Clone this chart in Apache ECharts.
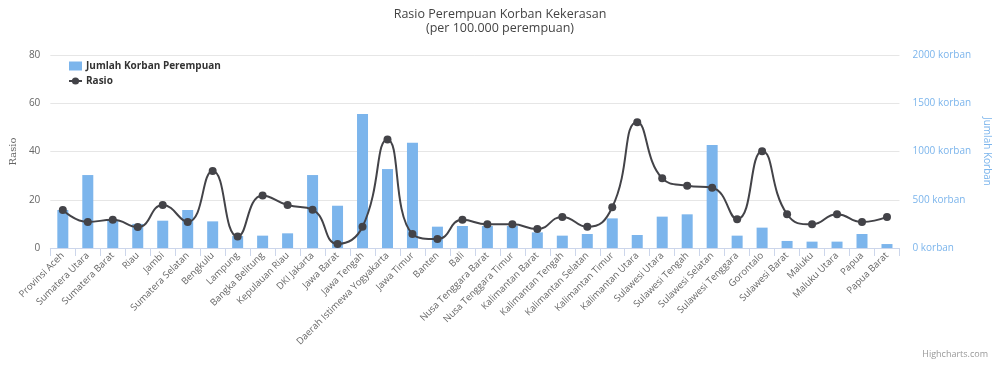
<!DOCTYPE html>
<html>
<head>
<meta charset="utf-8">
<script src="https://cdn.jsdelivr.net/npm/echarts@6/dist/echarts.min.js"></script>
<style>html,body{margin:0;padding:0;background:#fff;}#c{width:1000px;height:369px;}</style>
</head>
<body>
<div id="c"></div>
<script>
const categories = ["Provinsi Aceh","Sumatera Utara","Sumatera Barat","Riau","Jambi","Sumatera Selatan","Bengkulu","Lampung","Bangka Belitung","Kepulauan Riau","DKI Jakarta","Jawa Barat","Jawa Tengah","Daerah Istimewa Yogyakarta","Jawa Timur","Banten","Bali","Nusa Tenggara Barat","Nusa Tenggara Timur","Kalimantan Barat","Kalimantan Tengah","Kalimantan Selatan","Kalimantan Timur","Kalimantan Utara","Sulawesi Utara","Sulawesi Tengah","Sulawesi Selatan","Sulawesi Tenggara","Gorontalo","Sulawesi Barat","Maluku","Maluku Utara","Papua","Papua Barat"];
const jumlahKorban = [394,756,290,250,283,394,276,125,128,152,756,438,1388,818,1091,221,228,228,228,162,128,145,307,135,325,349,1067,128,211,73,66,66,145,41];
const rasio = [15.8,10.8,11.7,8.7,17.8,10.8,31.9,4.8,21.8,17.8,15.9,1.7,8.8,45.0,5.8,3.7,11.7,9.8,9.8,7.9,12.9,8.8,16.9,52.1,28.9,25.8,25.0,11.9,40.1,14.0,9.8,14.0,10.8,12.9];
const rasioTicks = {min:0, max:80, interval:20};
const korbanTicks = {min:0, max:2000, interval:500};

const FONT = "'Open Sans', sans-serif";
const chart = echarts.init(document.getElementById('c'), null, {renderer:'canvas'});
chart.setOption({
  animation:false,
  backgroundColor:'#ffffff',
  title:{
    text:'Rasio Perempuan Korban Kekerasan',
    subtext:'(per 100.000 perempuan)',
    left:'center', top:3, itemGap:1,
    textStyle:{fontFamily:FONT, fontSize:12.5, fontWeight:'normal', color:'#444444'},
    subtextStyle:{fontFamily:FONT, fontSize:12.5, color:'#444444'}
  },
  legend:{
    orient:'vertical', left:68, top:61, padding:0, itemGap:5, itemWidth:13, itemHeight:9,
    textStyle:{fontFamily:FONT, fontSize:10, fontWeight:'bold', color:'#333333', padding:[0,0,0,-1]},
    data:[{name:'Jumlah Korban Perempuan', icon:'rect'},{name:'Rasio'}]
  },
  grid:{left:43, right:100, top:55, bottom:121, containLabel:false},
  xAxis:{
    type:'category', data:categories,
    axisLine:{lineStyle:{color:'#ccd6eb'}},
    axisTick:{show:true, length:8, lineStyle:{color:'#ccd6eb'}},
    axisLabel:{rotate:45, interval:0, fontFamily:FONT, fontSize:9.5, color:'#666666', margin:6}
  },
  yAxis:[
    {type:'value', min:rasioTicks.min, max:rasioTicks.max, interval:rasioTicks.interval,
     name:'Rasio', nameLocation:'middle', nameGap:32, nameRotate:90,
     nameTextStyle:{fontFamily:'DejaVu Serif, serif', fontSize:10, color:'#666666'},
     axisLabel:{fontFamily:FONT, fontSize:10, color:'#666666', margin:10},
     axisLine:{show:false}, axisTick:{show:false},
     splitLine:{lineStyle:{color:'#e6e6e6'}}},
    {type:'value', min:korbanTicks.min, max:korbanTicks.max, interval:korbanTicks.interval,
     name:'Jumlah Korban', nameLocation:'middle', nameGap:80, nameRotate:-90,
     nameTextStyle:{fontFamily:FONT, fontSize:10, color:'#7cb5ec'},
     axisLabel:{fontFamily:FONT, fontSize:10, color:'#7cb5ec', margin:13, formatter:function(v){return String(v)+' korban';}},
     axisLine:{show:false}, axisTick:{show:false},
     splitLine:{show:false}}
  ],
  series:[
    {name:'Jumlah Korban Perempuan', type:'bar', yAxisIndex:1, data:jumlahKorban,
     barWidth:11, itemStyle:{color:'#7cb5ec'}},
    {name:'Rasio', type:'line', yAxisIndex:0, data:rasio, smooth:0.5,
     symbol:'circle', symbolSize:8, showSymbol:true,
     lineStyle:{color:'#434348', width:2}, itemStyle:{color:'#434348'}, z:5}
  ],
  graphic:[
    {type:'text', right:12, bottom:10, style:{text:'Highcharts.com', fontFamily:FONT, fontSize:9, fill:'#999999'}}
  ]
});
</script>
</body>
</html>
